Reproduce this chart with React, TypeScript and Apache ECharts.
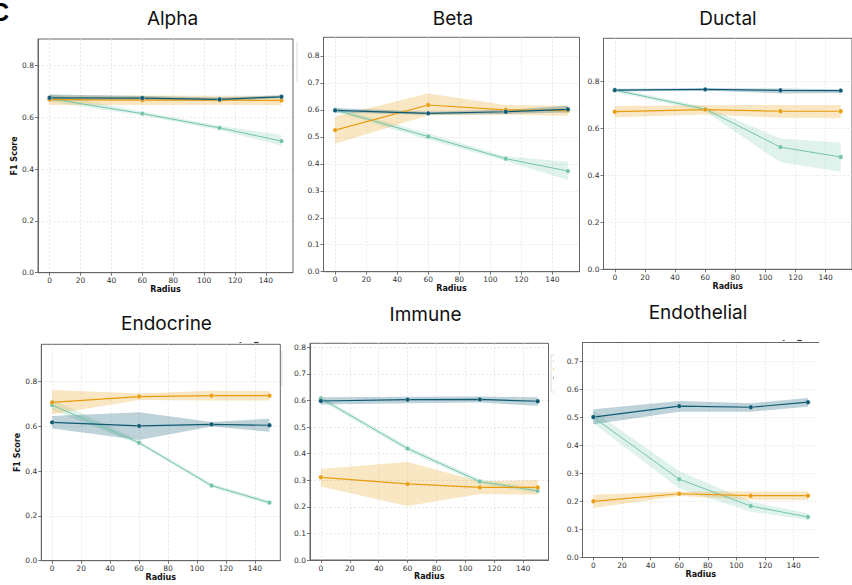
import React, { useEffect, useRef } from 'react';
import * as echarts from 'echarts';

// ---------- data ----------
const radius = [0, 60, 110, 150];
const xTicks = [0, 20, 40, 60, 80, 100, 120, 140];
const yTicksCoarse = [0, 0.2, 0.4, 0.6, 0.8];
const yTicksFine = [0, 0.1, 0.2, 0.3, 0.4, 0.5, 0.6, 0.7, 0.8];
const yTicksEndothelial = [0, 0.1, 0.2, 0.3, 0.4, 0.5, 0.6, 0.7];

const cellTypes = ['Alpha', 'Beta', 'Ductal', 'Endocrine', 'Immune', 'Endothelial'];
const methods = ['Method 1', 'Method 2', 'Method 3'];

// each: [mean, lower CI, upper CI] at radius 0, 60, 110, 150
const alphaM1 = [[0.672, 0.614, 0.559, 0.508], [0.660, 0.607, 0.551, 0.490], [0.690, 0.622, 0.567, 0.531]];
const alphaM2 = [[0.668, 0.666, 0.666, 0.665], [0.647, 0.647, 0.648, 0.646], [0.684, 0.684, 0.683, 0.683]];
const alphaM3 = [[0.675, 0.674, 0.669, 0.679], [0.665, 0.667, 0.662, 0.673], [0.688, 0.682, 0.676, 0.685]];

const betaM1 = [[0.600, 0.501, 0.419, 0.373], [0.592, 0.489, 0.410, 0.340], [0.610, 0.512, 0.428, 0.408]];
const betaM2 = [[0.525, 0.618, 0.600, 0.597], [0.474, 0.580, 0.582, 0.578], [0.575, 0.661, 0.618, 0.615]];
const betaM3 = [[0.598, 0.587, 0.593, 0.602], [0.590, 0.582, 0.585, 0.590], [0.607, 0.593, 0.600, 0.615]];

const ductalM1 = [[0.764, 0.683, 0.521, 0.479], [0.756, 0.673, 0.456, 0.416], [0.772, 0.693, 0.558, 0.540]];
const ductalM2 = [[0.672, 0.681, 0.674, 0.674], [0.648, 0.660, 0.646, 0.645], [0.696, 0.700, 0.701, 0.701]];
const ductalM3 = [[0.764, 0.767, 0.763, 0.762], [0.758, 0.762, 0.750, 0.752], [0.770, 0.772, 0.771, 0.768]];

const endocrineM1 = [[0.694, 0.526, 0.335, 0.259], [0.672, 0.518, 0.326, 0.250], [0.720, 0.535, 0.344, 0.268]];
const endocrineM2 = [[0.706, 0.732, 0.736, 0.736], [0.653, 0.717, 0.714, 0.714], [0.761, 0.746, 0.758, 0.757]];
const endocrineM3 = [[0.617, 0.601, 0.608, 0.604], [0.590, 0.538, 0.598, 0.575], [0.645, 0.662, 0.619, 0.633]];

const immuneM1 = [[0.608, 0.419, 0.295, 0.260], [0.600, 0.410, 0.286, 0.251], [0.616, 0.428, 0.305, 0.269]];
const immuneM2 = [[0.311, 0.286, 0.273, 0.273], [0.276, 0.203, 0.248, 0.245], [0.342, 0.369, 0.295, 0.301]];
const immuneM3 = [[0.598, 0.603, 0.604, 0.597], [0.585, 0.590, 0.592, 0.580], [0.612, 0.614, 0.615, 0.612]];

const endothelialM1 = [[0.500, 0.279, 0.183, 0.144], [0.479, 0.246, 0.163, 0.133], [0.523, 0.308, 0.199, 0.157]];
const endothelialM2 = [[0.200, 0.227, 0.220, 0.220], [0.176, 0.219, 0.205, 0.205], [0.223, 0.235, 0.235, 0.235]];
const endothelialM3 = [[0.501, 0.540, 0.536, 0.554], [0.475, 0.520, 0.520, 0.538], [0.529, 0.558, 0.550, 0.569]];

const panelData = [
  [alphaM1, alphaM2, alphaM3],
  [betaM1, betaM2, betaM3],
  [ductalM1, ductalM2, ductalM3],
  [endocrineM1, endocrineM2, endocrineM3],
  [immuneM1, immuneM2, immuneM3],
  [endothelialM1, endothelialM2, endothelialM3],
];

// ---------- styling / layout ----------
const methodColors = ['#72c4a8', '#e89c0e', '#0d5a72'];
const bandOpacity = [0.22, 0.25, 0.27];

const layouts = [
  { left: 38, top: 39, width: 255, height: 233.7, ymax: 0.902, yTicks: yTicksCoarse, tx: 172.5, ty: 18, yName: true, yNameGap: 17, frame: true },
  { left: 323.5, top: 37.3, width: 256, height: 234.4, ymax: 0.869, yTicks: yTicksFine, tx: 453, ty: 18, frame: true },
  { left: 603.5, top: 38.3, width: 256, height: 231, ymax: 0.985, yTicks: yTicksCoarse, tx: 728, ty: 18, frame: true },
  { left: 41.3, top: 344.3, width: 239, height: 216.4, ymax: 0.965, yTicks: yTicksCoarse, tx: 166.5, ty: 323, yName: true, yNameGap: 15, frame: true },
  { left: 310, top: 343.3, width: 238.5, height: 216.7, ymax: 0.815, yTicks: yTicksFine, tx: 425.5, ty: 314, frame: true },
  { left: 582.7, top: 342.3, width: 236, height: 215, ymax: 0.768, yTicks: yTicksEndothelial, tx: 698, ty: 312, frame: false },
];

const tickFont = { fontFamily: 'DejaVu Sans', fontSize: 7.5, color: '#333' };
const frameColor = '#666';

function buildOption() {
  const grids: any[] = [];
  const xAxes: any[] = [];
  const yAxes: any[] = [];
  const series: any[] = [];
  const graphics: any[] = [];

  layouts.forEach((L, p) => {
    grids.push({
      left: L.left, top: L.top, width: L.width, height: L.height,
      show: L.frame, borderColor: frameColor, borderWidth: 1, containLabel: false,
    });
    xAxes.push({
      type: 'value', gridIndex: p, min: -7.5, max: 157.5,
      name: 'Radius', nameLocation: 'middle', nameGap: 10.5,
      nameTextStyle: { fontFamily: 'DejaVu Sans', fontSize: 8, fontWeight: 'bold', color: '#111' },
      axisLine: { show: true, onZero: false, lineStyle: { color: frameColor, width: 1 } },
      axisTick: { show: true, length: 3, customValues: xTicks, lineStyle: { color: '#555', width: 0.8 } },
      axisLabel: { ...tickFont, margin: 4, customValues: xTicks, formatter: (v: number) => String(v) },
      splitLine: { show: true, lineStyle: { color: '#e3e3e3', type: [2, 2], width: 0.8 } },
    });
    yAxes.push({
      type: 'value', gridIndex: p, min: 0, max: L.ymax,
      name: L.yName ? 'F1 Score' : '', nameLocation: 'middle', nameGap: L.yNameGap || 15, nameRotate: 90,
      nameTextStyle: { fontFamily: 'DejaVu Sans', fontSize: 8, fontWeight: 'bold', color: '#111' },
      axisLine: { show: true, onZero: false, lineStyle: { color: frameColor, width: 1 } },
      axisTick: { show: true, length: 3, customValues: L.yTicks, lineStyle: { color: '#555', width: 0.8 } },
      axisLabel: { ...tickFont, margin: 4, customValues: L.yTicks, formatter: (v: number) => v.toFixed(1) },
      splitLine: { show: true, lineStyle: { color: '#e3e3e3', type: [2, 2], width: 0.8 } },
    });
    graphics.push({
      type: 'text', x: L.tx, y: L.ty,
      style: { text: cellTypes[p], fontFamily: 'Inter', fontSize: 19, fill: '#111', align: 'center', verticalAlign: 'middle' },
    });

    // confidence bands (one polygon per method, vertices through the axis scales)
    panelData[p].forEach((d, m) => {
      const [, lo, hi] = d;
      series.push({
        type: 'custom', xAxisIndex: p, yAxisIndex: p, silent: true, z: 1, clip: true,
        data: radius.map((x, i) => [x, lo[i], hi[i]]),
        encode: { x: 0, y: [1, 2] },
        renderItem: (params: any, api: any) => {
          if (params.dataIndex !== 0) return null;
          const upper = radius.map((x, i) => api.coord([x, hi[i]]));
          const lower = radius.map((x, i) => api.coord([x, lo[i]])).reverse();
          return {
            type: 'polygon',
            shape: { points: upper.concat(lower) },
            style: { fill: methodColors[m], opacity: bandOpacity[m] },
          };
        },
      });
    });
    // mean lines
    panelData[p].forEach((d, m) => {
      const [mean] = d;
      series.push({
        type: 'line', name: methods[m], xAxisIndex: p, yAxisIndex: p, z: 3,
        symbol: 'circle', symbolSize: 4.5, showSymbol: true,
        lineStyle: { color: methodColors[m], width: m === 0 ? 1 : 1.2 },
        itemStyle: { color: methodColors[m], borderColor: '#fff', borderWidth: 0.3 },
        data: radius.map((x, i) => [x, mean[i]]),
      });
    });
  });

  // top frame line for the Endothelial panel (no right spine)
  xAxes.push({
    type: 'value', gridIndex: 5, position: 'top', min: -7.5, max: 157.5,
    axisLine: { show: true, onZero: false, lineStyle: { color: frameColor, width: 1 } },
    axisTick: { show: false }, axisLabel: { show: false }, splitLine: { show: false },
  });

  // panel letter (clipped at the left edge, as in the source figure)
  graphics.push({
    type: 'text', x: -9, y: 12,
    style: { text: 'C', fontFamily: 'Liberation Sans', fontWeight: 'bold', fontSize: 25, fill: '#000', verticalAlign: 'middle' },
  });
  // clipped legend remnants
  const remnant = (x1: number, y1: number, x2: number, y2: number, c: string, w = 1) => ({
    type: 'line', shape: { x1, y1, x2, y2 }, style: { stroke: c, lineWidth: w }, silent: true,
  });
  graphics.push(remnant(297, 42, 297, 82, '#dcdcdc'));
  graphics.push(remnant(282, 351, 282, 386, '#dcdcdc'));
  graphics.push(remnant(551, 355, 551, 392, '#dcdcdc'));
  graphics.push(remnant(551, 355, 554, 355, '#dcdcdc'));
  graphics.push(remnant(551, 392, 554, 392, '#dcdcdc'));
  graphics.push(remnant(553, 361, 554, 361, methodColors[0]));
  graphics.push(remnant(553, 369, 554, 369, methodColors[1]));
  graphics.push(remnant(553, 378, 554, 378, methodColors[2]));
  graphics.push(remnant(239.5, 342.5, 241.5, 342.5, '#555'));
  graphics.push(remnant(254, 342.5, 258.5, 342.5, '#333', 1.2));
  graphics.push(remnant(782.7, 340.5, 784.7, 340.5, '#555'));
  graphics.push(remnant(797.3, 340.5, 801.7, 340.5, '#333', 1.2));

  return {
    animation: false,
    backgroundColor: '#fff',
    grid: grids,
    xAxis: xAxes,
    yAxis: yAxes,
    series,
    graphic: graphics,
  };
}

export default function App() {
  const ref = useRef<HTMLDivElement>(null);
  useEffect(() => {
    if (!ref.current) return;
    const chart = echarts.init(ref.current, undefined, { renderer: 'svg' });
    chart.setOption(buildOption() as any);
    return () => chart.dispose();
  }, []);
  return <div ref={ref} style={{ width: 852, height: 585, position: 'absolute', left: 0, top: 0 }} />;
}
